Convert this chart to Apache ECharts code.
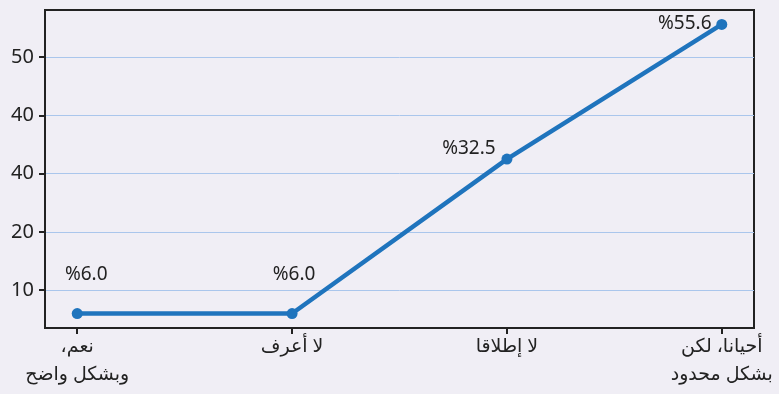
<!DOCTYPE html>
<html>
<head>
<meta charset="utf-8">
<script src="https://cdn.jsdelivr.net/npm/echarts@6/dist/echarts.min.js"></script>
<style>
  html, body { margin: 0; padding: 0; background: #f0eef5; }
  #chart { width: 779px; height: 394px; }
</style>
</head>
<body>
<div id="chart"></div>
<script>
// Survey answers (x axis) and their shares in percent
const categories = ['نعم،\u200F\nوبشكل واضح', 'لا أعرف', 'لا إطلاقا', 'أحيانا، لكن\nبشكل محدود'];
const values = [6.0, 6.0, 32.5, 55.6];

// Y axis tick positions and the text printed at each
const yTickValues = [10, 20, 30, 40, 50];
const yTickLabels = ['10', '20', '40', '40', '50'];

// Per-point label nudges (px) so the value text sits clear of the line
const labelOffsets = [[9, -39], [2, -39], [-38, -10], [-37, -1]];

const FONT = '"Noto Sans", "DejaVu Sans", sans-serif';
const INK = '#222222';
const LINE = '#1f74bd';

const xIdx = categories.map((_, i) => i);
const pad = (xIdx.length - 1) * 0.05;
const vMin = Math.min(...values), vMax = Math.max(...values);
const vPad = (vMax - vMin) * 0.05;

const chart = echarts.init(document.getElementById('chart'), null, { renderer: 'canvas' });
chart.setOption({
  backgroundColor: '#f0eef5',
  animation: false,
  grid: {
    left: 45, right: 25, top: 10, bottom: 66,
    show: true, borderColor: INK, borderWidth: 2, backgroundColor: 'transparent'
  },
  xAxis: {
    type: 'value',
    min: -pad,
    max: xIdx.length - 1 + pad,
    axisLine: { show: true, onZero: false, lineStyle: { color: INK, width: 2 } },
    axisTick: { show: true, customValues: xIdx, length: 6, lineStyle: { color: INK, width: 2 } },
    axisLabel: {
      customValues: xIdx,
      formatter: v => categories[Math.round(v)],
      color: INK, fontFamily: FONT, fontSize: 19, lineHeight: 28, margin: 5
    },
    splitLine: { show: false }
  },
  yAxis: {
    type: 'value',
    min: vMin - vPad,
    max: vMax + vPad,
    axisLine: { show: true, onZero: false, lineStyle: { color: INK, width: 2 } },
    axisTick: { show: true, customValues: yTickValues, length: 6, lineStyle: { color: INK, width: 2 } },
    axisLabel: {
      customValues: yTickValues,
      formatter: v => yTickLabels[yTickValues.indexOf(Math.round(v))],
      color: INK, fontFamily: FONT, fontSize: 20, margin: 11
    },
    splitLine: { show: true, lineStyle: { color: '#aac6ec', width: 1 } }
  },
  series: [
    {
      type: 'line',
      data: values.map((v, i) => ({
        value: [i, v],
        label: { offset: labelOffsets[i] }
      })),
      lineStyle: { color: LINE, width: 4.5 },
      itemStyle: { color: LINE },
      symbol: 'circle',
      symbolSize: 11,
      showAllSymbol: true,
      label: {
        show: true,
        position: 'inside',
        formatter: p => '%' + p.value[1].toFixed(1),
        color: INK, fontFamily: FONT, fontSize: 19
      },
      z: 3
    }
  ]
});
</script>
</body>
</html>
